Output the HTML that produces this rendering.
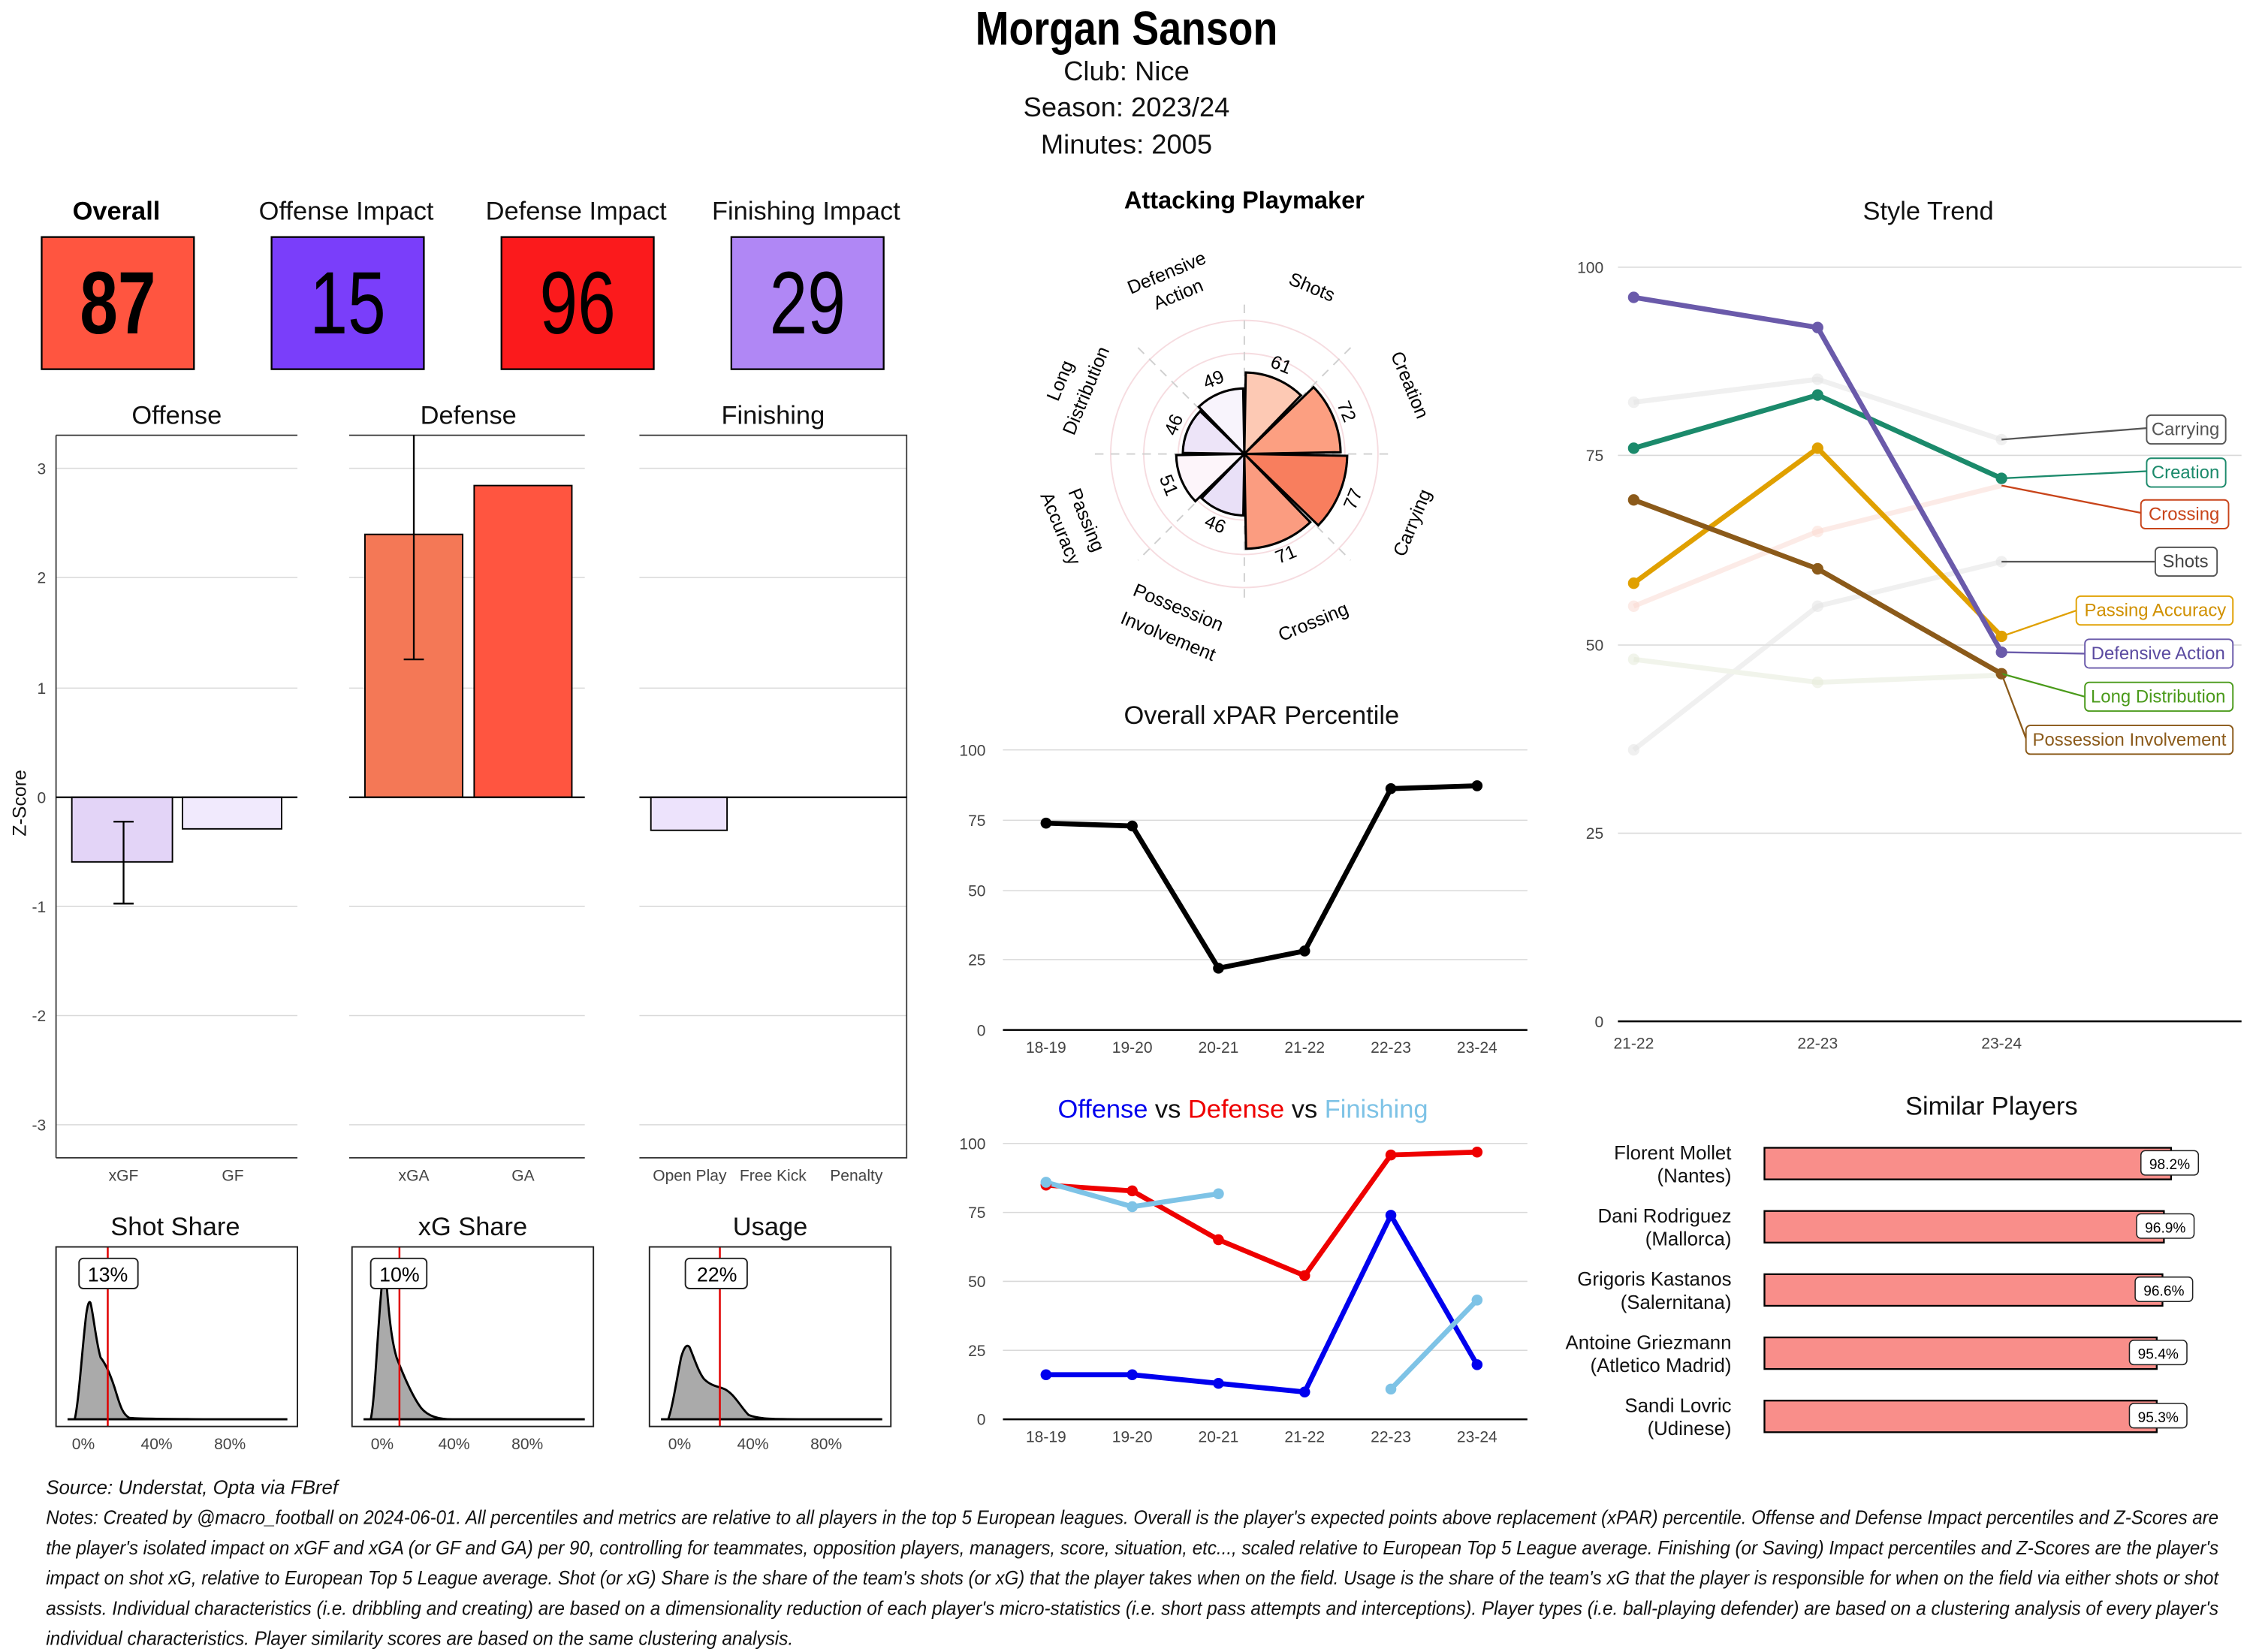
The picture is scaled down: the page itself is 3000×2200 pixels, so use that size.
<!DOCTYPE html>
<html><head><meta charset="utf-8"><style>
html,body{margin:0;padding:0;background:#fff}
svg{display:block}
text{font-family:"Liberation Sans Narrow","Liberation Sans",sans-serif}
.t{font-size:11px;fill:#444}
.tt{font-size:18px;fill:#111}
.g{stroke:#d9d9d9;stroke-width:0.8}
</style></head><body>
<svg width="3000" height="2200" viewBox="0 0 1568 1150" preserveAspectRatio="none" xmlns="http://www.w3.org/2000/svg">
<rect width="1568" height="1150" fill="#fff"/>
<!-- Title -->
<text transform="translate(784,31) scale(0.85,1)" text-anchor="middle" font-size="33" font-weight="bold" fill="#000">Morgan Sanson</text>
<text x="784" y="56" text-anchor="middle" font-size="19" fill="#111">Club:  Nice</text>
<text x="784" y="81" text-anchor="middle" font-size="19" fill="#111">Season:  2023/24</text>
<text x="784" y="107" text-anchor="middle" font-size="19" fill="#111">Minutes:  2005</text>

<!-- Impact boxes -->
<text x="81" y="153" text-anchor="middle" font-size="18" font-weight="bold">Overall</text>
<text x="241" y="153" text-anchor="middle" class="tt">Offense Impact</text>
<text x="401" y="153" text-anchor="middle" class="tt">Defense Impact</text>
<text x="561" y="153" text-anchor="middle" class="tt">Finishing Impact</text>
<rect x="29" y="165" width="106" height="92" fill="#FF5540" stroke="#000" stroke-width="1.2"/>
<rect x="189" y="165" width="106" height="92" fill="#7A3EFA" stroke="#000" stroke-width="1.2"/>
<rect x="349" y="165" width="106" height="92" fill="#FB1A1C" stroke="#000" stroke-width="1.2"/>
<rect x="509" y="165" width="106" height="92" fill="#B087F5" stroke="#000" stroke-width="1.2"/>
<text transform="translate(82,232) scale(0.85,1.1)" text-anchor="middle" font-size="56" font-weight="bold">87</text>
<text transform="translate(242,232) scale(0.85,1.1)" text-anchor="middle" font-size="56">15</text>
<text transform="translate(402,232) scale(0.85,1.1)" text-anchor="middle" font-size="56">96</text>
<text transform="translate(562,232) scale(0.85,1.1)" text-anchor="middle" font-size="56">29</text>

<!-- Z score panels -->
<text x="123" y="295" text-anchor="middle" class="tt">Offense</text>
<text x="326" y="295" text-anchor="middle" class="tt">Defense</text>
<text x="538" y="295" text-anchor="middle" class="tt">Finishing</text>
<g class="g">
<line x1="39" x2="207" y1="326" y2="326"/><line x1="39" x2="207" y1="402" y2="402"/><line x1="39" x2="207" y1="479" y2="479"/><line x1="39" x2="207" y1="631" y2="631"/><line x1="39" x2="207" y1="707" y2="707"/><line x1="39" x2="207" y1="783" y2="783"/>
<line x1="243" x2="407" y1="326" y2="326"/><line x1="243" x2="407" y1="402" y2="402"/><line x1="243" x2="407" y1="479" y2="479"/><line x1="243" x2="407" y1="631" y2="631"/><line x1="243" x2="407" y1="707" y2="707"/><line x1="243" x2="407" y1="783" y2="783"/>
<line x1="445" x2="631" y1="326" y2="326"/><line x1="445" x2="631" y1="402" y2="402"/><line x1="445" x2="631" y1="479" y2="479"/><line x1="445" x2="631" y1="631" y2="631"/><line x1="445" x2="631" y1="707" y2="707"/><line x1="445" x2="631" y1="783" y2="783"/>
</g>
<g stroke="#333" stroke-width="0.9" fill="none">
<path d="M39 303H207M39 806H207M39 303V806"/>
<path d="M243 303H407M243 806H407"/>
<path d="M445 303H631V806H445"/>
</g>
<g class="t" text-anchor="end">
<text x="32" y="330">3</text><text x="32" y="406">2</text><text x="32" y="483">1</text><text x="32" y="559">0</text><text x="32" y="635">-1</text><text x="32" y="711">-2</text><text x="32" y="787">-3</text>
</g>
<text x="0" y="0" transform="translate(18,559) rotate(-90)" text-anchor="middle" font-size="13" fill="#111">Z-Score</text>
<rect x="50" y="555" width="70" height="45" fill="#E3D4F7" stroke="#000"/>
<rect x="127" y="555" width="69" height="22" fill="#F1EAFD" stroke="#000"/>
<rect x="254" y="372" width="68" height="183" fill="#F47856" stroke="#000"/>
<rect x="330" y="338" width="68" height="217" fill="#FF5540" stroke="#000"/>
<rect x="453" y="555" width="53" height="23" fill="#EDE3FC" stroke="#000"/>
<g stroke="#000" stroke-width="1.2">
<line x1="39" x2="207" y1="555" y2="555"/><line x1="243" x2="407" y1="555" y2="555"/><line x1="445" x2="631" y1="555" y2="555"/>
<path d="M86 572V629M79 572H93M79 629H93" fill="none"/>
<path d="M288 303V459M281 459H295" fill="none"/>
</g>
<g class="t" text-anchor="middle">
<text x="86" y="822">xGF</text><text x="162" y="822">GF</text>
<text x="288" y="822">xGA</text><text x="364" y="822">GA</text>
<text x="480" y="822">Open Play</text><text x="538" y="822">Free Kick</text><text x="596" y="822">Penalty</text>
</g>

<!-- Share panels -->
<text x="122" y="860" text-anchor="middle" class="tt">Shot Share</text>
<text x="329" y="860" text-anchor="middle" class="tt">xG Share</text>
<text x="536" y="860" text-anchor="middle" class="tt">Usage</text>
<g fill="#AAAAAA" stroke="#000" stroke-width="1.5">
<path d="M47 988L52 988C55 975 57 940 60 915C61 908 62 905 63 907C65 915 67 935 70 945C74 950 78 960 81 970C84 980 86 985 90 987C100 988 150 988 200 988L47 988Z"/>
<path d="M253 988L258 988C261 975 263 920 266 892C267 886 268 886 269 893C271 920 273 935 276 945C281 958 287 972 293 980C298 986 305 988 315 988C350 988 400 988 407 988Z"/>
<path d="M460 988L465 988C468 980 471 960 474 945C476 938 478 935 480 938C483 945 486 955 490 960C496 966 502 965 506 968C512 972 516 980 521 985C528 988 540 988 560 988C590 988 610 988 614 988Z"/>
</g>
<g stroke="#E00000" stroke-width="1.3">
<line x1="75" x2="75" y1="868" y2="993"/><line x1="278" x2="278" y1="868" y2="993"/><line x1="501" x2="501" y1="868" y2="993"/>
</g>
<g stroke="#222" stroke-width="1" fill="none">
<rect x="39" y="868" width="168" height="125"/><rect x="245" y="868" width="168" height="125"/><rect x="452" y="868" width="168" height="125"/>
</g>
<g fill="#fff" stroke="#222" stroke-width="1"><rect x="55" y="876" width="41" height="21" rx="3"/><rect x="258" y="876" width="39" height="21" rx="3"/><rect x="477" y="876" width="43" height="21" rx="3"/></g>
<g font-size="14" text-anchor="middle"><text x="75" y="892">13%</text><text x="278" y="892">10%</text><text x="499" y="892">22%</text></g>
<g class="t" text-anchor="middle" font-size="10.5">
<text x="58" y="1009">0%</text><text x="109" y="1009">40%</text><text x="160" y="1009">80%</text>
<text x="266" y="1009">0%</text><text x="316" y="1009">40%</text><text x="367" y="1009">80%</text>
<text x="473" y="1009">0%</text><text x="524" y="1009">40%</text><text x="575" y="1009">80%</text>
</g>

<!-- Polar -->
<text x="866" y="145" text-anchor="middle" font-size="17" font-weight="bold">Attacking Playmaker</text>
<g fill="none" stroke="#F6DCE0" stroke-width="1"><circle cx="866" cy="316" r="93"/><circle cx="866" cy="316" r="70"/><circle cx="866" cy="316" r="46"/><circle cx="866" cy="316" r="23"/></g>
<g stroke="#cfcfcf" stroke-width="1" stroke-dasharray="6,5">
<line x1="866" y1="212" x2="866" y2="420"/><line x1="762" y1="316" x2="970" y2="316"/>
<line x1="792" y1="242" x2="940" y2="390"/><line x1="940" y1="242" x2="792" y2="390"/>
</g>
<g stroke="#000" stroke-width="1.6">
<path d="M866 316L867 259.3A56.7 56.7 0 0 1 905.4 275.2Z" fill="#FDC9B4"/>
<path d="M866 316L914.2 269.5A67 67 0 0 1 933 314.8Z" fill="#FC9F81"/>
<path d="M866 316L937.6 317.3A71.6 71.6 0 0 1 917.5 365.7Z" fill="#F87E5E"/>
<path d="M866 316L911.9 363.5A66 66 0 0 1 867.2 382Z" fill="#FB9C80"/>
<path d="M866 316L865.3 358.8A42.8 42.8 0 0 1 836.3 346.8Z" fill="#E9E0F7"/>
<path d="M866 316L831.9 348.9A47.4 47.4 0 0 1 818.6 316.8Z" fill="#FDF5FA"/>
<path d="M866 316L823.2 315.3A42.8 42.8 0 0 1 835.2 286.3Z" fill="#EDE4F8"/>
<path d="M866 316L834.3 283.2A45.6 45.6 0 0 1 865.2 270.4Z" fill="#F8F4FC"/>
</g>
<g font-size="13" text-anchor="middle" dominant-baseline="central" font-family="Liberation Sans">
<text transform="translate(891.6,254) rotate(22.5)">61</text>
<text transform="translate(937,286.5) rotate(67.5)">72</text>
<text transform="translate(941.8,347.4) rotate(-67.5)">77</text>
<text transform="translate(895,386) rotate(-22.5)">71</text>
<text transform="translate(845.7,365) rotate(22.5)">46</text>
<text transform="translate(813.3,337.8) rotate(67.5)">51</text>
<text transform="translate(817,295.7) rotate(-67.5)">46</text>
<text transform="translate(844.6,264.3) rotate(-22.5)">49</text>
</g>
<g font-size="13" text-anchor="middle" dominant-baseline="central">
<text transform="translate(913,200) rotate(22.5)">Shots</text>
<text transform="translate(981,268) rotate(67.5)">Creation</text>
<text transform="translate(983,364) rotate(-67.5)">Carrying</text>
<text transform="translate(914,433) rotate(-22.5)">Crossing</text>
<text transform="translate(820,423) rotate(22.5)">Possession</text>
<text transform="translate(813,443) rotate(22.5)">Involvement</text>
<text transform="translate(756,362) rotate(67.5)">Passing</text>
<text transform="translate(738,368) rotate(67.5)">Accuracy</text>
<text transform="translate(738,265) rotate(-67.5)">Long</text>
<text transform="translate(756,272) rotate(-67.5)">Distribution</text>
<text transform="translate(812,190) rotate(-22.5)">Defensive</text>
<text transform="translate(820,205) rotate(-22.5)">Action</text>
</g>

<!-- Overall xPAR -->
<text x="878" y="504" text-anchor="middle" class="tt">Overall xPAR Percentile</text>
<g class="g"><line x1="698" x2="1063" y1="522" y2="522"/><line x1="698" x2="1063" y1="571" y2="571"/><line x1="698" x2="1063" y1="620" y2="620"/><line x1="698" x2="1063" y1="668" y2="668"/></g>
<line x1="698" x2="1063" y1="717" y2="717" stroke="#000" stroke-width="1.3"/>
<g class="t" text-anchor="end"><text x="686" y="526">100</text><text x="686" y="575">75</text><text x="686" y="624">50</text><text x="686" y="672">25</text><text x="686" y="721">0</text></g>
<polyline points="728,573 788,575 848,674 908,662 968,549 1028,547" fill="none" stroke="#000" stroke-width="3.5" stroke-linejoin="round"/>
<g fill="#000"><circle cx="728" cy="573" r="3.8"/><circle cx="788" cy="575" r="3.8"/><circle cx="848" cy="674" r="3.8"/><circle cx="908" cy="662" r="3.8"/><circle cx="968" cy="549" r="3.8"/><circle cx="1028" cy="547" r="3.8"/></g>
<g class="t" text-anchor="middle"><text x="728" y="733">18-19</text><text x="788" y="733">19-20</text><text x="848" y="733">20-21</text><text x="908" y="733">21-22</text><text x="968" y="733">22-23</text><text x="1028" y="733">23-24</text></g>

<!-- Offense vs Defense -->
<text x="865" y="778" text-anchor="middle" font-size="18"><tspan fill="#0000EE">Offense</tspan><tspan fill="#111">  vs  </tspan><tspan fill="#EE0000">Defense</tspan><tspan fill="#111">  vs  </tspan><tspan fill="#7EC3E6">Finishing</tspan></text>
<g class="g"><line x1="698" x2="1063" y1="796" y2="796"/><line x1="698" x2="1063" y1="844" y2="844"/><line x1="698" x2="1063" y1="892" y2="892"/><line x1="698" x2="1063" y1="940" y2="940"/></g>
<line x1="698" x2="1063" y1="988" y2="988" stroke="#000" stroke-width="1.3"/>
<g class="t" text-anchor="end"><text x="686" y="800">100</text><text x="686" y="848">75</text><text x="686" y="896">50</text><text x="686" y="944">25</text><text x="686" y="992">0</text></g>
<g fill="none" stroke-width="3.5" stroke-linejoin="round">
<polyline points="728,957 788,957 848,963 908,969 968,846 1028,950" stroke="#0000EE"/>
<polyline points="728,825 788,829 848,863 908,888 968,804 1028,802" stroke="#EE0000"/>
<polyline points="728,823 788,840 848,831" stroke="#7EC3E6"/>
<polyline points="968,967 1028,905" stroke="#7EC3E6"/>
</g>
<g fill="#0000EE"><circle cx="728" cy="957" r="3.8"/><circle cx="788" cy="957" r="3.8"/><circle cx="848" cy="963" r="3.8"/><circle cx="908" cy="969" r="3.8"/><circle cx="968" cy="846" r="3.8"/><circle cx="1028" cy="950" r="3.8"/></g>
<g fill="#EE0000"><circle cx="728" cy="825" r="3.8"/><circle cx="788" cy="829" r="3.8"/><circle cx="848" cy="863" r="3.8"/><circle cx="908" cy="888" r="3.8"/><circle cx="968" cy="804" r="3.8"/><circle cx="1028" cy="802" r="3.8"/></g>
<g fill="#7EC3E6"><circle cx="728" cy="823" r="3.8"/><circle cx="788" cy="840" r="3.8"/><circle cx="848" cy="831" r="3.8"/><circle cx="968" cy="967" r="3.8"/><circle cx="1028" cy="905" r="3.8"/></g>
<g class="t" text-anchor="middle"><text x="728" y="1004">18-19</text><text x="788" y="1004">19-20</text><text x="848" y="1004">20-21</text><text x="908" y="1004">21-22</text><text x="968" y="1004">22-23</text><text x="1028" y="1004">23-24</text></g>

<!-- Style trend -->
<text x="1342" y="153" text-anchor="middle" class="tt">Style Trend</text>
<g class="g"><line x1="1126" x2="1560" y1="186" y2="186"/><line x1="1126" x2="1560" y1="317" y2="317"/><line x1="1126" x2="1560" y1="449" y2="449"/><line x1="1126" x2="1560" y1="580" y2="580"/></g>
<line x1="1126" x2="1560" y1="711" y2="711" stroke="#000" stroke-width="1.3"/>
<g class="t" text-anchor="end"><text x="1116" y="190">100</text><text x="1116" y="321">75</text><text x="1116" y="453">50</text><text x="1116" y="584">25</text><text x="1116" y="715">0</text></g>
<g class="t" text-anchor="middle"><text x="1137" y="730">21-22</text><text x="1265" y="730">22-23</text><text x="1393" y="730">23-24</text></g>
<g fill="none" stroke-width="3.5" stroke-linejoin="round" opacity="0.5">
<polyline points="1137,280 1265,264 1393,306" stroke="#e2e2e2"/>
<polyline points="1137,422 1265,370 1393,338" stroke="#fbd9d0"/>
<polyline points="1137,522 1265,422 1393,391" stroke="#e2e2e2"/>
<polyline points="1137,459 1265,475 1393,470" stroke="#e5ead8"/>
</g>
<g opacity="0.5"><circle cx="1137" cy="280" r="4" fill="#e2e2e2"/><circle cx="1265" cy="264" r="4" fill="#e2e2e2"/><circle cx="1393" cy="306" r="4" fill="#e2e2e2"/>
<circle cx="1137" cy="422" r="4" fill="#fbd9d0"/><circle cx="1265" cy="370" r="4" fill="#fbd9d0"/>
<circle cx="1137" cy="522" r="4" fill="#e2e2e2"/><circle cx="1265" cy="422" r="4" fill="#e2e2e2"/><circle cx="1393" cy="391" r="4" fill="#e2e2e2"/>
<circle cx="1137" cy="459" r="4" fill="#e5ead8"/><circle cx="1265" cy="475" r="4" fill="#e5ead8"/></g>
<g fill="none" stroke-width="3.5" stroke-linejoin="round">
<polyline points="1137,406 1265,312 1393,443" stroke="#E0A000"/>
<polyline points="1137,348 1265,396 1393,469" stroke="#8B5A1A"/>
<polyline points="1137,312 1265,275 1393,333" stroke="#1B8A6B"/>
<polyline points="1137,207 1265,228 1393,454" stroke="#6A5AAA"/>
</g>
<g><circle cx="1137" cy="406" r="4" fill="#E0A000"/><circle cx="1265" cy="312" r="4" fill="#E0A000"/><circle cx="1393" cy="443" r="4" fill="#E0A000"/>
<circle cx="1137" cy="348" r="4" fill="#8B5A1A"/><circle cx="1265" cy="396" r="4" fill="#8B5A1A"/><circle cx="1393" cy="469" r="4" fill="#8B5A1A"/>
<circle cx="1137" cy="312" r="4" fill="#1B8A6B"/><circle cx="1265" cy="275" r="4" fill="#1B8A6B"/><circle cx="1393" cy="333" r="4" fill="#1B8A6B"/>
<circle cx="1137" cy="207" r="4" fill="#6A5AAA"/><circle cx="1265" cy="228" r="4" fill="#6A5AAA"/><circle cx="1393" cy="454" r="4" fill="#6A5AAA"/></g>
<g stroke-width="1.2" fill="none">
<line x1="1393" y1="306" x2="1494" y2="298" stroke="#555"/>
<line x1="1393" y1="333" x2="1494" y2="328" stroke="#1B8A6B"/>
<line x1="1393" y1="338" x2="1490" y2="357" stroke="#C8441A"/>
<line x1="1393" y1="391" x2="1500" y2="391" stroke="#555"/>
<line x1="1393" y1="443" x2="1445" y2="425" stroke="#E0A000"/>
<line x1="1393" y1="454" x2="1451" y2="455" stroke="#6A5AAA"/>
<line x1="1393" y1="469" x2="1451" y2="485" stroke="#4A9A1A"/>
<line x1="1393" y1="469" x2="1410" y2="514" stroke="#8B5A1A"/>
</g>
<g fill="#fff" stroke-width="1">
<rect x="1494" y="289" width="55" height="20" rx="3" stroke="#555"/>
<rect x="1494" y="319" width="55" height="20" rx="3" stroke="#1B8A6B"/>
<rect x="1490" y="348" width="61" height="20" rx="3" stroke="#C8441A"/>
<rect x="1500" y="381" width="43" height="20" rx="3" stroke="#555"/>
<rect x="1445" y="415" width="109" height="20" rx="3" stroke="#E0A000"/>
<rect x="1451" y="445" width="103" height="20" rx="3" stroke="#6A5AAA"/>
<rect x="1451" y="475" width="103" height="20" rx="3" stroke="#4A9A1A"/>
<rect x="1410" y="505" width="144" height="20" rx="3" stroke="#8B5A1A"/>
</g>
<g font-size="12.5" text-anchor="middle">
<text x="1521" y="303" fill="#555">Carrying</text>
<text x="1521" y="333" fill="#1B8A6B">Creation</text>
<text x="1520" y="362" fill="#C8441A">Crossing</text>
<text x="1521" y="395" fill="#444">Shots</text>
<text x="1500" y="429" fill="#D09000">Passing Accuracy</text>
<text x="1502" y="459" fill="#5A4AA0">Defensive Action</text>
<text x="1502" y="489" fill="#4A9A1A">Long Distribution</text>
<text x="1482" y="519" fill="#8B5A1A">Possession Involvement</text>
</g>

<!-- Similar players -->
<text x="1386" y="776" text-anchor="middle" class="tt">Similar Players</text>
<g fill="#F98E8A" stroke="#000" stroke-width="1.2">
<rect x="1228" y="799" width="283" height="22"/><rect x="1228" y="843" width="278" height="22"/><rect x="1228" y="887" width="277" height="22"/><rect x="1228" y="931" width="273" height="22"/><rect x="1228" y="975" width="273" height="22"/>
</g>
<g fill="#fff" stroke="#222" stroke-width="0.8">
<rect x="1490" y="801" width="40" height="17" rx="3"/><rect x="1487" y="845" width="40" height="17" rx="3"/><rect x="1486" y="889" width="40" height="17" rx="3"/><rect x="1482" y="933" width="40" height="17" rx="3"/><rect x="1482" y="977" width="40" height="17" rx="3"/>
</g>
<g font-size="10" text-anchor="middle" font-family="Liberation Sans">
<text x="1510" y="814">98.2%</text><text x="1507" y="858">96.9%</text><text x="1506" y="902">96.6%</text><text x="1502" y="946">95.4%</text><text x="1502" y="990">95.3%</text>
</g>
<g font-size="13.5" text-anchor="end" fill="#111">
<text x="1205" y="807">Florent Mollet</text><text x="1205" y="823">(Nantes)</text>
<text x="1205" y="851">Dani Rodriguez</text><text x="1205" y="867">(Mallorca)</text>
<text x="1205" y="895">Grigoris Kastanos</text><text x="1205" y="911">(Salernitana)</text>
<text x="1205" y="939">Antoine Griezmann</text><text x="1205" y="955">(Atletico Madrid)</text>
<text x="1205" y="983">Sandi Lovric</text><text x="1205" y="999">(Udinese)</text>
</g>

<!-- Notes -->
<g font-size="13.5" font-style="italic" fill="#111">
<text x="32" y="1040">Source: Understat, Opta via FBref</text>
<text x="32" y="1061" textLength="1512" lengthAdjust="spacingAndGlyphs">Notes: Created by @macro_football on 2024-06-01. All percentiles and metrics are relative to all players in the top 5 European leagues. Overall is the player's expected points above replacement (xPAR) percentile. Offense and Defense Impact percentiles and Z-Scores are</text>
<text x="32" y="1082" textLength="1512" lengthAdjust="spacingAndGlyphs">the player's isolated impact on xGF and xGA (or GF and GA) per 90, controlling for teammates, opposition players, managers, score, situation, etc..., scaled relative to European Top 5 League average. Finishing (or Saving) Impact percentiles and Z-Scores are the player's</text>
<text x="32" y="1103" textLength="1512" lengthAdjust="spacingAndGlyphs">impact on shot xG, relative to European Top 5 League average. Shot (or xG) Share is the share of the team's shots (or xG) that the player takes when on the field. Usage is the share of the team's xG that the player is responsible for when on the field via either shots or shot</text>
<text x="32" y="1124" textLength="1512" lengthAdjust="spacingAndGlyphs">assists. Individual characteristics (i.e. dribbling and creating) are based on a dimensionality reduction of each player's micro-statistics (i.e. short pass attempts and interceptions). Player types (i.e. ball-playing defender) are based on a clustering analysis of every player's</text>
<text x="32" y="1145" textLength="520" lengthAdjust="spacingAndGlyphs">individual characteristics. Player similarity scores are based on the same clustering analysis.</text>
</g>
</svg>
</body></html>
